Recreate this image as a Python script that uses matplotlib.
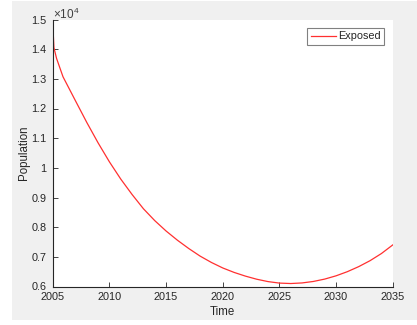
import matplotlib
matplotlib.use("Agg")
import matplotlib.pyplot as plt
from matplotlib.patches import Rectangle

# Data
time = [2005.0, 2005.1, 2005.33, 2005.9, 2007, 2008, 2009, 2010, 2011, 2012,
        2013, 2014, 2015, 2016, 2017, 2018, 2019, 2020, 2021, 2022, 2023,
        2024, 2025, 2026, 2027, 2028, 2029, 2030, 2031, 2032, 2033, 2034, 2035]
exposed = [14850, 14050, 13690, 13070, 12260, 11530, 10840, 10200, 9620, 9100,
           8620, 8220, 7870, 7560, 7280, 7025, 6810, 6625, 6475, 6350, 6245,
           6165, 6115, 6100, 6120, 6170, 6250, 6360, 6500, 6670, 6870, 7110, 7400]
xticks = [2005, 2010, 2015, 2020, 2025, 2030, 2035]
yticks = [6000, 7000, 8000, 9000, 10000, 11000, 12000, 13000, 14000, 15000]
yticklabels = ['0.6', '0.7', '0.8', '0.9', '1', '1.1', '1.2', '1.3', '1.4', '1.5']

plt.rcParams['font.family'] = ['Liberation Sans', 'DejaVu Sans']
plt.rcParams['mathtext.fontset'] = 'custom'
plt.rcParams['mathtext.rm'] = 'Liberation Sans'
plt.rcParams['mathtext.it'] = 'Liberation Sans:italic'

W, H = 417, 325
fig = plt.figure(figsize=(W / 100, H / 100), dpi=100, facecolor='white')
bg = Rectangle((12 / W, 5 / H), 1 - 12 / W, 1 - 6 / H,
               transform=fig.transFigure, facecolor='#f0f0f0',
               edgecolor='none', zorder=-10)
fig.add_artist(bg)

top_px, bot_px = 19.5, 286.5
ax = fig.add_axes([52.8 / W, 1 - bot_px / H, (392.7 - 52.8) / W, (bot_px - top_px) / H])
ax.set_zorder(1)
ax.set_facecolor('white')
ax.plot(time, exposed, color='#ff3030', lw=0.9, label='Exposed')

ax.set_xlim(2005, 2035)
ax.set_ylim(6000, 15000)
ax.set_xticks(xticks)
ax.set_xticklabels([str(t) for t in xticks])
ax.set_yticks(yticks)
ax.set_yticklabels(yticklabels)

dark = '#262626'
for s in ['top', 'right']:
    ax.spines[s].set_visible(False)
for s in ['left', 'bottom']:
    ax.spines[s].set_color(dark)
    ax.spines[s].set_linewidth(0.8)
ax.tick_params(direction='in', length=3.5, width=0.6, colors=dark,
               labelsize=7.8, pad=4)
ax.tick_params(axis='y', pad=4.5)

ax.set_xlabel('Time', fontsize=8.3, color=dark, labelpad=3)
ax.set_ylabel('Population', fontsize=8.3, color=dark, labelpad=1)

ax.text(0.0, 0.99, r'$\times10^{4}$', transform=ax.transAxes, fontsize=8.5,
        color='#404040', ha='left', va='bottom', clip_on=False)

leg = ax.legend(loc='upper right', bbox_to_anchor=(0.975, 0.968),
                fancybox=False, edgecolor='#808080', fontsize=7.8,
                handlelength=2.3, handletextpad=0.25, borderpad=0.3,
                borderaxespad=0, framealpha=1)
leg.get_frame().set_linewidth(0.8)
for t in leg.get_texts():
    t.set_color(dark)

fig.savefig('out.png', dpi=100, facecolor='white')
